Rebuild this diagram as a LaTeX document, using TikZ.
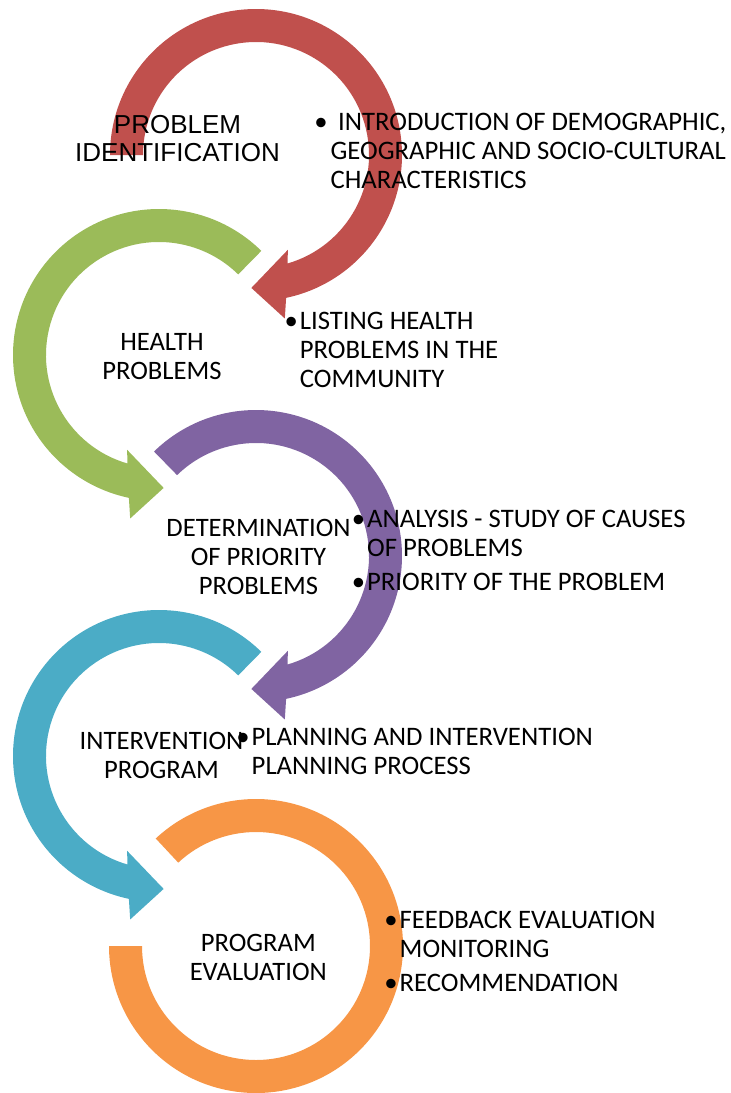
\documentclass[tikz,border=0pt]{standalone}
\usepackage{fontspec}
\setmainfont{Carlito}
\newfontfamily\arialfont{Liberation Sans}
\usetikzlibrary{calc}
\definecolor{arrRed}{HTML}{C0504D}
\definecolor{arrGreen}{HTML}{9BBB59}
\definecolor{arrPurple}{HTML}{8064A2}
\definecolor{arrTeal}{HTML}{4BACC6}
\definecolor{arrOrange}{HTML}{F79646}
\newcommand\bul{\llap{•\hspace{2pt}}}
\tikzset{
  lbl/.style={inner sep=0pt, anchor=base, font=\fontsize{26.6}{29}\selectfont},
  blt/.style={inner sep=0pt, anchor=base west, font=\fontsize{26.7}{29}\selectfont},
}
\begin{document}
\begin{tikzpicture}[x=1pt,y=1pt]
\useasboundingbox (0,0) rectangle (731,-1093);
\coordinate (cR) at (256,-155);
\coordinate (cG) at (159,-355);
\coordinate (cP) at (256,-556);
\coordinate (cT) at (159,-756);
\coordinate (cO) at (256,-946);
% red arrow (clockwise)
\fill[arrRed] ($(cR)+(180:146pt)$) arc[start angle=180, end angle=-78.1, radius=146pt]
  -- ($(cR)+(-80:166pt)$) -- ($(cR)+(-92:133pt)$) -- ($(cR)+(-71.4:100pt)$)
  -- ($(cR)+(-73.8:113pt)$) arc[start angle=-73.8, end angle=180, radius=113pt] -- cycle;
% green arrow (counter-clockwise)
\fill[arrGreen] ($(cG)+(45.5:146pt)$) arc[start angle=45.5, end angle=258.1, radius=146pt]
  -- ($(cG)+(260:166pt)$) -- ($(cG)+(272:133pt)$) -- ($(cG)+(251.4:100pt)$)
  -- ($(cG)+(253.8:113pt)$) arc[start angle=253.8, end angle=45.5, radius=113pt] -- cycle;
% purple arrow (clockwise)
\fill[arrPurple] ($(cP)+(134.3:146pt)$) arc[start angle=134.3, end angle=-78.1, radius=146pt]
  -- ($(cP)+(-80:166pt)$) -- ($(cP)+(-92:133pt)$) -- ($(cP)+(-71.4:100pt)$)
  -- ($(cP)+(-73.8:113pt)$) arc[start angle=-73.8, end angle=134.3, radius=113pt] -- cycle;
% teal arrow (counter-clockwise)
\fill[arrTeal] ($(cT)+(45.5:146pt)$) arc[start angle=45.5, end angle=258.1, radius=146pt]
  -- ($(cT)+(260:166pt)$) -- ($(cT)+(272:133pt)$) -- ($(cT)+(251.4:100pt)$)
  -- ($(cT)+(253.8:113pt)$) arc[start angle=253.8, end angle=45.5, radius=113pt] -- cycle;
% orange ring
\fill[arrOrange] ($(cO)+(133:147pt)$) arc[start angle=133, end angle=-180, radius=147pt]
  -- ($(cO)+(-180:114pt)$) arc[start angle=-180, end angle=133, radius=114pt] -- cycle;

% texts
\node[inner sep=0pt, anchor=base, font=\arialfont\fontsize{26}{28}\selectfont] (t1) at (177.5,-133.3)
  {\begin{tabular}[t]{@{}c@{}}PROBLEM\\IDENTIFICATION\end{tabular}};
\node[blt] (t2) at (330.4,-130)
  {\begin{tabular}[t]{@{}l@{}}\llap{•\hspace{3pt}}\hspace{7.5pt}INTRODUCTION OF DEMOGRAPHIC,\\GEOGRAPHIC AND SOCIO-CULTURAL\\CHARACTERISTICS\end{tabular}};
\node[blt] (t3) at (299.7,-329)
  {\begin{tabular}[t]{@{}l@{}}\bul LISTING HEALTH\\PROBLEMS IN THE\\COMMUNITY\end{tabular}};
\node[lbl] (t4) at (162,-350)
  {\begin{tabular}[t]{@{}c@{}}HEALTH\\PROBLEMS\end{tabular}};
\node[lbl] (t5) at (258.5,-536)
  {\begin{tabular}[t]{@{}c@{}}DETERMINATION\\OF PRIORITY\\PROBLEMS\end{tabular}};
\node[blt] (t6) at (367,-527)
  {\begin{tabular}[t]{@{}l@{}}\bul ANALYSIS - STUDY OF CAUSES\\OF PROBLEMS\\[5.5pt]\bul PRIORITY OF THE PROBLEM\end{tabular}};
\node[lbl] (t7) at (161.5,-749)
  {\begin{tabular}[t]{@{}c@{}}INTERVENTION\\PROGRAM\end{tabular}};
\node[blt] (t8) at (251.5,-745.7)
  {\begin{tabular}[t]{@{}l@{}}\bul PLANNING AND INTERVENTION\\PLANNING PROCESS\end{tabular}};
\node[lbl] (t9) at (258.3,-951.7)
  {\begin{tabular}[t]{@{}c@{}}PROGRAM\\EVALUATION\end{tabular}};
\node[blt] (t10) at (399.5,-928)
  {\begin{tabular}[t]{@{}l@{}}\bul FEEDBACK EVALUATION\\MONITORING\\[5.5pt]\bul RECOMMENDATION\end{tabular}};
\end{tikzpicture}
\end{document}
